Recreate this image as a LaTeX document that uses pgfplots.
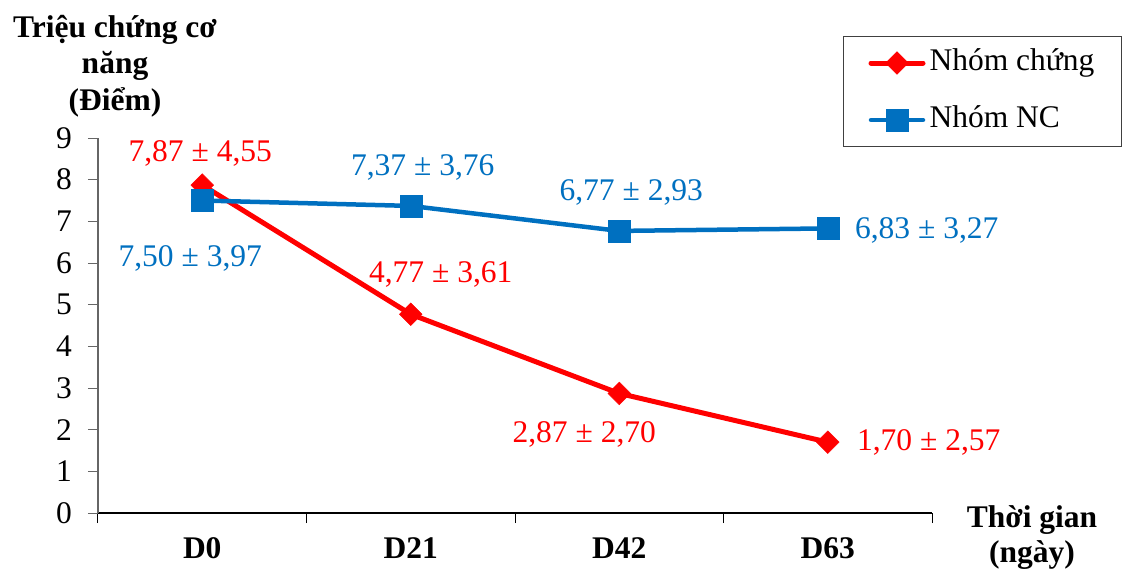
\documentclass[border=0pt]{standalone}
\usepackage{pgfplots}
\pgfplotsset{compat=1.18}
\usepackage{fontspec}
\setmainfont{Liberation Serif}
\definecolor{grpred}{HTML}{FF0000}
\definecolor{grpblue}{HTML}{0070C0}

\begin{document}
\begin{tikzpicture}[font=\fontsize{31.5}{36}\selectfont]
\useasboundingbox (0,0) rectangle (1122pt,571pt);
\begin{axis}[
  at={(98pt,58pt)}, anchor=south west,
  scale only axis, width=834pt, height=375pt,
  xmin=0, xmax=4, ymin=0, ymax=9,
  clip=false,
  axis x line=bottom, axis y line=left,
  axis line style={-},
  x axis line style={black, line width=1.2pt},
  y axis line style={black!60, line width=1.2pt},
  xtick={0,1,2,3,4},
  xticklabels={D0,D21,D42,D63},
  x tick label as interval,
  ytick={0,1,2,3,4,5,6,7,8,9},
  tick align=outside,
  major tick length=10pt,
  xtick style={black, line width=1pt},
  ytick style={black!60, line width=1pt},
  /pgf/number format/assume math mode=true,
  yticklabel style={anchor=east, inner sep=0pt, xshift=-16pt},
  xticklabel style={font=\fontsize{31.5}{36}\selectfont\bfseries, inner sep=0pt, yshift=-14pt},
  ylabel={Triệu chứng cơ\\năng\\(Điểm)},
  ylabel style={rotate=-90, align=center, font=\fontsize{31.5}{36.5}\selectfont\bfseries,
    at={(axis description cs:0.0204,1.192)}, anchor=center},
  xlabel={Thời gian\\(ngày)},
  xlabel style={align=center, font=\fontsize{31.5}{35}\selectfont\bfseries,
    at={(axis description cs:1.1199,-0.0653)}, anchor=center},
  legend style={at={(axis description cs:0.8933,1.272)}, anchor=north west,
    draw=black!75, line width=1pt, inner xsep=25pt, inner ysep=10pt,
    row sep=24pt, column sep=2pt,
    nodes={inner sep=2pt, text height=22pt, text depth=7pt, anchor=west},
    font=\fontsize{31.5}{36}\selectfont},
  legend cell align=left,
  legend image code/.code={%
    \draw[mark repeat=2, mark phase=2, line cap=round, #1]
      plot coordinates {(0pt,0pt) (26pt,0pt) (52pt,0pt)};},
]
% control group
\addplot[grpred, line width=5pt, mark=square*,
  mark size=8pt, mark options={rotate=45, solid, line width=0.5pt, fill=grpred}]
  coordinates {(0.5,7.87) (1.5,4.77) (2.5,2.87) (3.5,1.70)};
\addlegendentry{Nhóm chứng}
% study group
\addplot[grpblue, line width=4.5pt, mark=square*,
  mark size=11pt, mark options={solid, line width=0.5pt, fill=grpblue}]
  coordinates {(0.5,7.50) (1.5,7.37) (2.5,6.77) (3.5,6.83)};
\addlegendentry{Nhóm NC}

% mean ± SD labels
\node[text=grpred, xshift=-2pt, yshift=32pt] at (axis cs:0.5,7.87) {7,87 ± 4,55};
\node[text=grpred, xshift=30pt, yshift=40pt] at (axis cs:1.5,4.77) {4,77 ± 3,61};
\node[text=grpred, xshift=-35pt, yshift=-41pt] at (axis cs:2.5,2.87) {2,87 ± 2,70};
\node[text=grpred, xshift=101pt, yshift=0pt] at (axis cs:3.5,1.70) {1,70 ± 2,57};
\node[text=grpblue, xshift=-12pt, yshift=-58pt] at (axis cs:0.5,7.50) {7,50 ± 3,97};
\node[text=grpblue, xshift=12pt, yshift=38pt] at (axis cs:1.5,7.37) {7,37 ± 3,76};
\node[text=grpblue, xshift=12pt, yshift=38pt] at (axis cs:2.5,6.77) {6,77 ± 2,93};
\node[text=grpblue, xshift=99pt, yshift=-2pt] at (axis cs:3.5,6.83) {6,83 ± 3,27};
\end{axis}
\end{tikzpicture}
\end{document}
